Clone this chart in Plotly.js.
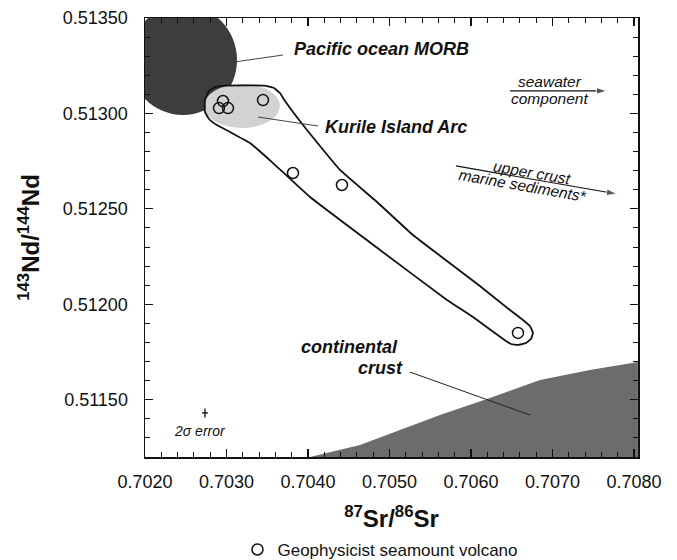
<!DOCTYPE html>
<html>
<head>
<meta charset="utf-8">
<script src="https://cdn.plot.ly/plotly-3.0.1.min.js"></script>
<style>html,body{margin:0;padding:0;background:#fff;}#chart{width:677px;height:560px;}</style>
</head>
<body>
<div id="chart"></div>
<script>
// Geophysicist seamount volcano samples
var srValues = [0.702957, 0.702908, 0.703018, 0.703448, 0.703816, 0.704417, 0.706577];
var ndValues = [0.513065, 0.513028, 0.513028, 0.513070, 0.512688, 0.512625, 0.511850];
var seriesName = "Geophysicist seamount volcano";

// axis ticks
var xTickVals = [0.7020, 0.7030, 0.7040, 0.7050, 0.7060, 0.7070, 0.7080];
var yTickVals = [0.51150, 0.51200, 0.51250, 0.51300, 0.51350];

// field outline enclosing the samples
var fieldX = [0.702736,0.702736,0.702785,0.702871,0.702994,0.703460,0.703583,0.703656,0.703718,0.703988,0.704393,0.704847,0.705288,0.705706,0.706110,0.706479,0.706638,0.706724,0.706761,0.706736,0.706675,0.706577,0.706491,0.706429,0.706025,0.705706,0.704883,0.704025,0.703571,0.703288,0.703043,0.702883,0.702785,0.702736];
var fieldY = [0.513008,0.513070,0.513118,0.513139,0.513146,0.513146,0.513133,0.513107,0.513065,0.512913,0.512704,0.512536,0.512363,0.512227,0.512096,0.511970,0.511918,0.511886,0.511850,0.511818,0.511797,0.511787,0.511792,0.511808,0.511933,0.512023,0.512285,0.512562,0.512740,0.512845,0.512903,0.512939,0.512971,0.513008];

// continental crust field (upper boundary, closed to bottom-right corner)
var crustX = [0.704025,0.704638,0.705129,0.705620,0.706233,0.706847,0.707460,0.708049,0.708049,0.704025];
var crustY = [0.511200,0.511263,0.511341,0.511420,0.511509,0.511603,0.511656,0.511698,0.511200,0.511200];

// MORB and Kurile arc fields (bounding boxes)
var morbBox = {x0:0.701804, x1:0.703129, y0:0.513568, y1:0.512992};
var kurileBox = {x0:0.702724, x1:0.703656, y0:0.513154, y1:0.512924};

// direction arrows (tail -> head)
var seawaterArrowX = [0.706479, 0.707669];
var seawaterArrowY = [0.513118, 0.513118];
var crustArrowX = [0.705816, 0.707791];
var crustArrowY = [0.512725, 0.512578];

// 2 sigma error
var errPt = {x:0.702736, y:0.511431, ex:0.000037, ey:0.0000236};

var FONT = "Liberation Sans, Arial, Helvetica, sans-serif";

function arrowTrace(xs, ys) {
  return {x: xs, y: ys, mode: "lines+markers", line: {color: "#111", width: 1.2},
          marker: {symbol: "arrow", angleref: "previous", size: [0, 11], color: "#111"},
          hoverinfo: "skip", showlegend: false};
}

var traces = [
  {x: crustX, y: crustY, mode: "lines", fill: "toself", line: {width: 0, color: "#6c6c6c"},
   fillcolor: "#6c6c6c", hoverinfo: "skip", showlegend: false},
  {x: fieldX, y: fieldY, mode: "lines", line: {color: "#111", width: 1.8, shape: "spline", smoothing: 0.3},
   hoverinfo: "skip", showlegend: false},
  {x: [errPt.x], y: [errPt.y], mode: "markers", marker: {size: 1, color: "#111"},
   error_x: {type: "constant", value: errPt.ex, color: "#111", thickness: 1.3, width: 0},
   error_y: {type: "constant", value: errPt.ey, color: "#111", thickness: 1.3, width: 0},
   hoverinfo: "skip", showlegend: false},
  arrowTrace(seawaterArrowX, seawaterArrowY),
  arrowTrace(crustArrowX, crustArrowY),
  {x: srValues, y: ndValues, name: seriesName, mode: "markers", type: "scatter",
   marker: {symbol: "circle-open", size: 11, color: "#111", line: {width: 1.5, color: "#111"}}}
];

var shapes = [
  {type: "circle", xref: "x", yref: "y", x0: morbBox.x0, x1: morbBox.x1, y0: morbBox.y0, y1: morbBox.y1,
   fillcolor: "#3d3d3d", line: {width: 0}, layer: "below"},
  {type: "circle", xref: "x", yref: "y", x0: kurileBox.x0, x1: kurileBox.x1, y0: kurileBox.y0, y1: kurileBox.y1,
   fillcolor: "#d2d2d2", line: {width: 0}, layer: "below"},
  {type: "line", xref: "x", yref: "y", x0: 0.703104, y0: 0.513270, x1: 0.703693, y1: 0.513306, line: {color: "#444", width: 1}},
  {type: "line", xref: "x", yref: "y", x0: 0.703387, y0: 0.512981, x1: 0.704123, y1: 0.512934, line: {color: "#444", width: 1}},
  {type: "line", xref: "x", yref: "y", x0: 0.705252, y0: 0.511645, x1: 0.706724, y1: 0.511420, line: {color: "#222", width: 1}}
];

function txt(text, x, y, size, opts) {
  var a = {text: text, x: x, y: y, xref: "x", yref: "y", showarrow: false,
           font: {family: FONT, size: size, color: "#111"}, xanchor: "center", yanchor: "middle"};
  for (var k in opts) a[k] = opts[k];
  return a;
}

var annotations = [
  txt("<b><i>Pacific ocean MORB</i></b>", 0.703804, 0.513338, 18, {xanchor: "left"}),
  txt("<b><i>Kurile Island Arc</i></b>", 0.704184, 0.512929, 18, {xanchor: "left"}),
  txt("<i>seawater</i>", 0.706969, 0.513165, 15.5, {}),
  txt("<i>component</i>", 0.706969, 0.513076, 15.5, {}),
  txt("<i>upper crust</i>", 0.706748, 0.512693, 15.5, {textangle: 10}),
  txt("<i>marine sediments*</i>", 0.706638, 0.512620, 15.5, {textangle: 10}),
  txt("<b><i>continental</i></b>", 0.705129, 0.511776, 18, {xanchor: "right"}),
  txt("<b><i>crust</i></b>", 0.705190, 0.511666, 18, {xanchor: "right"}),
  txt("<i>2σ error</i>", 0.702675, 0.511336, 14, {})
];

var layout = {
  width: 677, height: 560,
  margin: {l: 145, r: 39, t: 18, b: 103, pad: 0, autoexpand: false},
  paper_bgcolor: "#fff", plot_bgcolor: "#fff",
  font: {family: FONT, size: 18, color: "#111"},
  showlegend: true,
  legend: {x: 0.562, y: 0.018, xref: "container", yref: "container", xanchor: "center", yanchor: "middle",
           orientation: "h", font: {family: FONT, size: 17, color: "#111"}, itemwidth: 30, bgcolor: "rgba(0,0,0,0)"},
  xaxis: {range: [0.7020, 0.70805], tickvals: xTickVals, tickformat: ".4f", automargin: false,
          ticks: "inside", ticklen: 8, tickwidth: 1.2, tickcolor: "#111",
          minor: {dtick: 0.0002, tick0: 0.7020, ticks: "inside", ticklen: 5, tickwidth: 1, tickcolor: "#111", showgrid: false},
          showline: true, linewidth: 1.5, linecolor: "#111", mirror: "ticks",
          showgrid: false, zeroline: false, ticklabelstandoff: 8,
          tickfont: {family: FONT, size: 18, color: "#111"},
          title: {text: "<b><sup>87</sup>Sr/<sup>86</sup>Sr</b>", font: {family: FONT, size: 24, color: "#111"}, standoff: 20}},
  yaxis: {range: [0.51120, 0.51350], tickvals: yTickVals, tickformat: ".5f", automargin: false,
          ticks: "inside", ticklen: 8, tickwidth: 1.2, tickcolor: "#111",
          minor: {dtick: 0.0001, tick0: 0.5112, ticks: "inside", ticklen: 5, tickwidth: 1, tickcolor: "#111", showgrid: false},
          showline: true, linewidth: 1.5, linecolor: "#111", mirror: "ticks",
          showgrid: false, zeroline: false, ticklabelstandoff: 12,
          tickfont: {family: FONT, size: 18, color: "#111"},
          title: {text: "<b><sup>143</sup>Nd/<sup>144</sup>Nd</b>", font: {family: FONT, size: 24, color: "#111"}, standoff: 16}},
  shapes: shapes,
  annotations: annotations
};

Plotly.newPlot("chart", traces, layout, {displayModeBar: false, staticPlot: true});
</script>
</body>
</html>
